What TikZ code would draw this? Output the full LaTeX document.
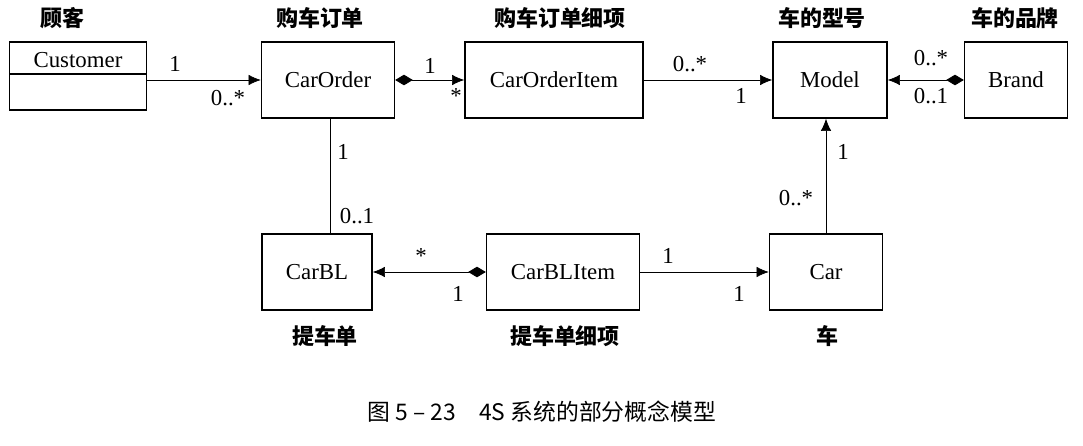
\documentclass[tikz,border=0pt]{standalone}
\usepackage{fontspec}
\setmainfont{Liberation Serif}
\newfontfamily\cjk{Noto Sans CJK SC}
\usetikzlibrary{arrows.meta}
\tikzset{
    cls/.style = {draw, thick, minimum height=1.52cm, inner sep=0pt, font=\fontsize{13}{15}\selectfont},
    title/.style = {font=\cjk\bfseries\fontsize{12.5}{14}\selectfont},
    mult/.style = {font=\fontsize{13}{15}\selectfont, inner sep=1pt},
    assoc/.style = {-{Latex[length=7pt,width=6pt]}},
    comp/.style = {{Diamond[length=10pt,width=6pt]}-{Latex[length=7pt,width=6pt]}},
}

\begin{document}
\begin{tikzpicture}[x=0.02cm, y=-0.02cm]
    \useasboundingbox (0,0) rectangle (1083,446);

    % classes
    \node (customer) [draw, thick, minimum width=2.74cm, minimum height=1.36cm] at (78,76) {};
    \draw [thick] (10,74) -- (147,74);
    \node [font=\fontsize{13}{15}\selectfont] at (78,60) {Customer};
    \node (order) [cls, minimum width=2.66cm] at (328,80) {CarOrder};
    \node (item) [cls, minimum width=3.56cm] at (554,80) {CarOrderItem};
    \node (model) [cls, minimum width=2.28cm] at (830,80) {Model};
    \node (brand) [cls, minimum width=2.06cm] at (1016,80) {Brand};
    \node (bl) [cls, minimum width=2.2cm] at (317,272) {CarBL};
    \node (blitem) [cls, minimum width=3.06cm] at (563,272) {CarBLItem};
    \node (car) [cls, minimum width=2.26cm] at (826,272) {Car};

    % captions
    \node [title] at (62,18) {顾客};
    \node [title] at (320,18) {购车订单};
    \node [title] at (560,18) {购车订单细项};
    \node [title] at (822,18) {车的型号};
    \node [title] at (1015,18) {车的品牌};
    \node [title] at (325,336) {提车单};
    \node [title] at (565,336) {提车单细项};
    \node [title] at (827,336) {车};

    % associations
    \draw [assoc] (customer.east |- 0,80) -- (order.west);
    \node [mult] at (175,64) {1};
    \node [mult] at (228,98) {0..*};
    \draw [comp] (order.east) -- (item.west);
    \node [mult] at (430,66) {1};
    \node [mult] at (456,96) {*};
    \draw [assoc] (item.east) -- (model.west);
    \node [mult] at (690,64) {0..*};
    \node [mult] at (741,96) {1};
    \draw [comp] (brand.west) -- (model.east);
    \node [mult] at (931,58) {0..*};
    \node [mult] at (931,96) {0..1};
    \draw (order.south -| 330,0) -- (bl.north -| 330,0);
    \node [mult] at (343,152) {1};
    \node [mult] at (357,216) {0..1};
    \draw [comp] (blitem.west) -- (bl.east);
    \node [mult] at (421,256) {*};
    \node [mult] at (458,294) {1};
    \draw [assoc] (blitem.east) -- (car.west);
    \node [mult] at (668,256) {1};
    \node [mult] at (739,294) {1};
    \draw [assoc] (car.north) -- (model.south -| car.north);
    \node [mult] at (843,152) {1};
    \node [mult] at (796,198) {0..*};

    \node [font=\cjk\fontsize{13}{15}\selectfont] at (542,412) {图 5 – 23\quad 4S 系统的部分概念模型};
\end{tikzpicture}
\end{document}
